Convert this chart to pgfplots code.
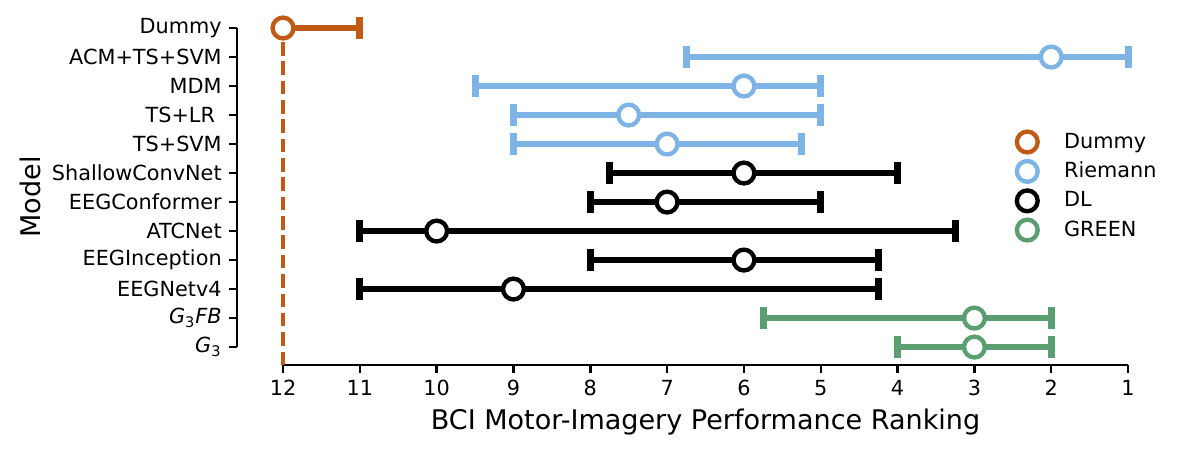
\documentclass[border=0pt]{standalone}
\usepackage{fontspec}
\setmainfont{DejaVu Sans}
\usepackage{pgfplots}
\pgfplotsset{compat=1.18}
\usepackage{pgfplotstable}
\definecolor{cdummy}{HTML}{BF5B17}
\definecolor{criem}{HTML}{7DB4E5}
\definecolor{cgreen}{HTML}{5A9E72}

\pgfplotstableread{
x y ep em
12 11 0 1
}\dummytab
\pgfplotstableread{
x y ep em
2 10 4.75 1
6 9 3.5 1
7.5 8 1.5 2.5
7 7 2 1.75
}\riemtab
\pgfplotstableread{
x y ep em
6 6 1.75 2
7 5 1 2
10 4 1 6.75
6 3 2 1.75
9 2 2 4.75
}\dltab
\pgfplotstableread{
x y ep em
3 1 2.75 1
3 0 1 1
}\greentab

\pgfplotsset{
  grp/.style={only marks, mark=*, color=#1,
    mark options={fill=white, draw=#1, line width=2.1pt, mark size=5pt},
    error bars/x explicit,
    error bars/error bar style={line width=2.8pt, color=#1},
    error bars/error mark options={color=#1, line width=3.4pt, mark size=5.4pt, rotate=90}},
}

\begin{document}
\begin{tikzpicture}
\begin{axis}[
  scale only axis, width=428.4pt, height=169pt,
  x dir=reverse, xmin=1, xmax=12.6, ymin=-0.62, ymax=11.5,
  axis x line*=bottom, axis y line*=left,
  axis line style={draw=none},
  xtick={1,...,12}, ytick={0,...,11},
  yticklabels={\textit{G}\textsubscript{3}, \textit{G}\textsubscript{3}\textit{FB}, EEGNetv4, EEGInception, ATCNet, EEGConformer, ShallowConvNet, TS+SVM, TS+LR\kern3.2pt, MDM, ACM+TS+SVM, Dummy},
  tick align=outside, major tick length=3.8pt,
  every tick/.style={black, line width=1.2pt},
  tick label style={font=\fontsize{10}{12}\selectfont},
  /pgf/number format/assume math mode=true,
  clip=false,
  xlabel={BCI Motor-Imagery Performance Ranking},
  ylabel={Model},
  label style={font=\fontsize{13}{15}\selectfont},
  xlabel style={at={(axis cs:6.5,-0.62)}, anchor=center, yshift=-27.4pt},
  ylabel style={at={(rel axis cs:0,0.478)}, anchor=center, yshift=99.5pt},
  legend style={at={(axis cs:2.366,5.55)}, anchor=west, xshift=-6.2pt, draw=none, fill=none,
    font=\fontsize{10}{12}\selectfont, row sep=1.2pt,
    /tikz/every odd column/.append style={column sep=10.7pt}},
  legend cell align=left,
]
\draw[line width=1.2pt] (axis cs:12.6,0) -- (axis cs:12.6,11);
\draw[line width=1.2pt] (axis cs:12,-0.62) -- (axis cs:1,-0.62);
\addplot[cdummy, line width=1.9pt, dash pattern=on 6.5pt off 2.8pt, forget plot] coordinates {(12,-0.62) (12,11)};
\addplot[grp=cdummy, error bars/x dir=minus] table[x=x, y=y, x error plus=ep, x error minus=em] {\dummytab};
\addlegendentry{Dummy}
\addplot[grp=criem, error bars/x dir=both] table[x=x, y=y, x error plus=ep, x error minus=em] {\riemtab};
\addlegendentry{Riemann}
\addplot[grp=black, error bars/x dir=both] table[x=x, y=y, x error plus=ep, x error minus=em] {\dltab};
\addlegendentry{DL}
\addplot[grp=cgreen, error bars/x dir=both] table[x=x, y=y, x error plus=ep, x error minus=em] {\greentab};
\addlegendentry{GREEN}
\end{axis}
\pgfresetboundingbox
\path ([shift={(-113.9pt,-41.8pt)}]current axis.south west) rectangle ([shift={(456.25pt,175.5pt)}]current axis.south west);
\end{tikzpicture}
\end{document}
